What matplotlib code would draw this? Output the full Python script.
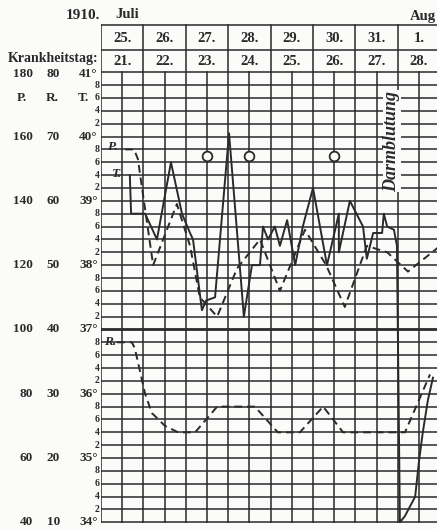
import matplotlib.pyplot as plt
import numpy as np

# columns of the chart sheet
dates = ['25.', '26.', '27.', '28.', '29.', '30.', '31.', '1.']
krank_tag = ['21.', '22.', '23.', '24.', '25.', '26.', '27.', '28.']
deg_labels = [41, 40, 39, 38, 37, 36, 35, 34]
p_labels = [180, 160, 140, 120, 100, 80, 60, 40]
r_labels = [80, 70, 60, 50, 40, 30, 20, 10]

# temperature (solid), time = days since 25. Juli
temp_day = [0.68, 0.71, 1.04, 1.32, 1.65, 1.91, 2.10, 2.17, 2.38, 2.48, 2.69,
            3.02, 3.37, 3.56, 3.75, 3.82, 3.94, 4.10, 4.22, 4.39, 4.58, 4.76,
            5.00, 5.33, 5.61, 5.61, 5.87, 6.18, 6.27, 6.42, 6.63, 6.67, 6.75,
            6.91, 6.98, 7.05, 7.17, 7.29, 7.41, 7.50, 7.59, 7.71, 7.83]
temp = [39.4, 38.8, 38.8, 38.4, 39.6, 38.8, 38.5, 38.4, 37.3, 37.45, 37.5,
        40.05, 37.2, 38.0, 38.0, 38.6, 38.4, 38.6, 38.3, 38.7, 38.0, 38.6,
        39.2, 38.0, 38.8, 38.2, 39.0, 38.6, 38.1, 38.5, 38.5, 38.8, 38.6,
        38.55, 38.3, 34.0, 34.1, 34.25, 34.4, 34.95, 35.4, 35.9, 36.25]

# pulse (dashed, upper)
pulse_day = [0.57, 0.78, 0.87, 1.23, 1.79, 2.10, 2.33, 2.74, 3.21, 3.75, 4.22,
             4.81, 5.31, 5.75, 6.27, 6.75, 7.24, 7.81, 8.0]
pulse = [156, 156, 153, 120, 139, 126, 110, 104, 119, 128, 112,
         131, 120, 107, 126, 124, 118, 124, 126]

# respiration (dashed, lower)
resp_day = [0.38, 0.73, 0.80, 1.04, 1.20, 1.51, 1.82, 2.22, 2.74, 3.63, 4.17,
            4.69, 5.24, 5.71, 7.17, 7.76]
resp = [38, 38, 37, 30, 27, 25, 24, 24, 28, 28, 24, 24, 28, 24, 24, 33]

# circles (bath marks)
bath_day = [2.5, 3.5, 5.5]
bath_level = 39.7


def p_to_t(p):
    return 41 - (180 - np.asarray(p)) / 20.0


def r_to_t(r):
    return 41 - (80 - np.asarray(r)) / 10.0


ink = '#2a2a2a'
bg = '#fbfbf9'
serif = 'Liberation Serif'

fig = plt.figure(figsize=(4.37, 5.29), dpi=100)
fig.patch.set_facecolor(bg)
ax = fig.add_axes([101 / 437, 1 - 523 / 529, 336 / 437, 499 / 529])
ax.set_facecolor(bg)
ax.set_xlim(0, 7.925)
ax.set_ylim(33.99, 41.75)
ax.axis('off')

# grid
for v in np.arange(34, 41.01, 0.2):
    lw = 2.0 if abs(v - 37) < 0.01 else 1.1
    ax.plot([0, 8], [v, v], color=ink, lw=lw, zorder=1)
for d in np.arange(0, 8.01, 0.5):
    top = 41.73 if d % 1 == 0 else 41.0
    ax.plot([d, d], [33.99, top], color=ink, lw=1.1, zorder=1)
for v in [41.34, 41.73]:
    ax.plot([0, 8], [v, v], color=ink, lw=1.1, zorder=1)

# header
for i, (d, k) in enumerate(zip(dates, krank_tag)):
    ax.text(i + 0.5, 41.53, d, ha='center', va='center', fontsize=10.5,
            family=serif, weight='bold', color=ink)
    ax.text(i + 0.5, 41.16, k, ha='center', va='center', fontsize=10.5,
            family=serif, weight='bold', color=ink)
ax.text(-0.02, 41.88, '1910.', ha='right', va='center', fontsize=11,
        family=serif, weight='bold', color=ink)
ax.text(0.33, 41.9, 'Juli', ha='left', va='center', fontsize=10.5,
        family=serif, weight='bold', color=ink)
ax.text(7.28, 41.86, 'Aug', ha='left', va='center', fontsize=10.5,
        family=serif, weight='bold', color=ink)
ax.text(-0.07, 41.22, 'Krankheitstag:', ha='right', va='center', fontsize=10,
        family=serif, weight='bold', color=ink)

# left scales
for t, p, r in zip(deg_labels, p_labels, r_labels):
    y = t - 0.03 if t == 41 else t
    ax.text(-1.6, y, str(p), ha='right', va='center', fontsize=9.5,
            family=serif, weight='bold', color=ink)
    ax.text(-0.97, y, str(r), ha='right', va='center', fontsize=9.5,
            family=serif, weight='bold', color=ink)
    ax.text(-0.08, y, f'{t}°', ha='right', va='center', fontsize=9.5,
            family=serif, weight='bold', color=ink)
for t in deg_labels[:-1]:
    for j, s in enumerate(['8', '6', '4', '2']):
        ax.text(-0.03, t - 0.2 * (j + 1), s, ha='right', va='center',
                fontsize=7, family=serif, weight='bold', color=ink)
ax.text(-1.87, 40.6, 'P.', ha='center', va='center', fontsize=9.5,
        family=serif, weight='bold', color=ink)
ax.text(-1.15, 40.6, 'R.', ha='center', va='center', fontsize=9.5,
        family=serif, weight='bold', color=ink)
ax.text(-0.42, 40.6, 'T.', ha='center', va='center', fontsize=9.5,
        family=serif, weight='bold', color=ink)

# curves
ax.plot(temp_day, temp, color=ink, lw=1.4, zorder=3)
ax.plot(pulse_day, p_to_t(pulse), color=ink, lw=1.4, ls=(0, (4, 2.5)), zorder=3)
ax.plot(resp_day, r_to_t(resp), color=ink, lw=1.4, ls=(0, (4, 2.5)), zorder=3)
ax.plot(bath_day, [bath_level] * len(bath_day), 'o', ms=7, mfc=bg,
        mec=ink, mew=1.3, ls='none', zorder=4)

# curve names
ax.text(0.27, 39.83, 'P.', ha='center', va='center', fontsize=9.5,
        family=serif, style='italic', weight='bold', color=ink)
ax.text(0.36, 39.42, 'T.', ha='center', va='center', fontsize=9.5,
        family=serif, style='italic', weight='bold', color=ink)
ax.text(0.22, 36.8, 'R.', ha='center', va='center', fontsize=9.5,
        family=serif, style='italic', weight='bold', color=ink)
ax.text(6.86, 39.93, 'Darmblutung', ha='center', va='center', rotation=90,
        fontsize=13, family=serif, style='italic', weight='bold', color=ink,
        bbox=dict(fc=bg, ec='none', pad=0.5))

fig.savefig('out.png', dpi=100, facecolor=fig.get_facecolor())
